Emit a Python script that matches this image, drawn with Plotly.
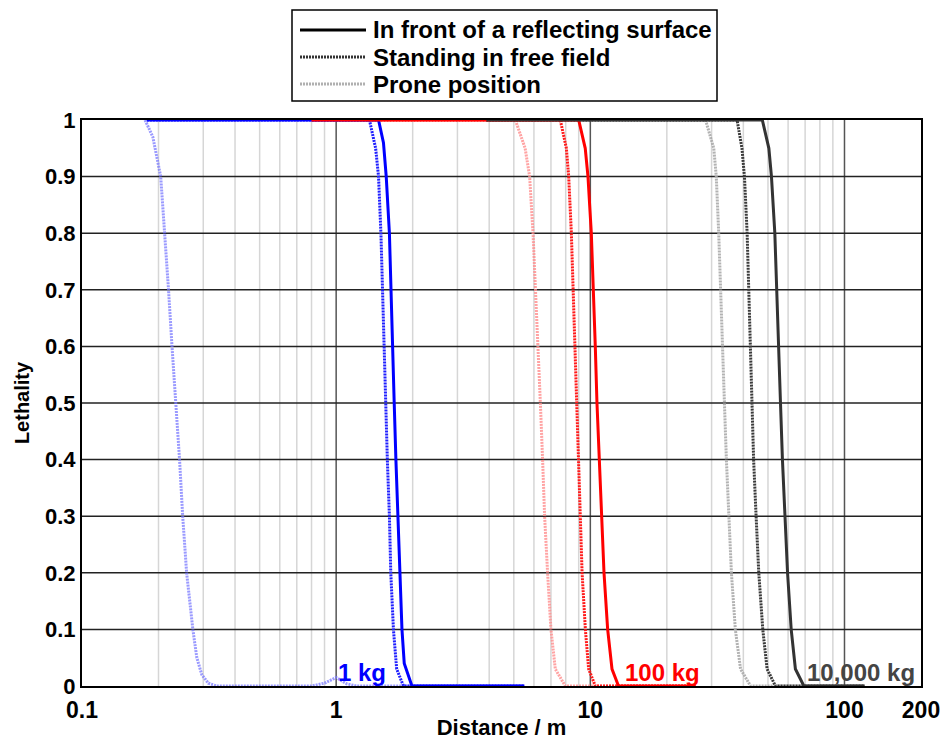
import math
import plotly.graph_objects as go

# ---------------- data ----------------
# 1 kg
blue_prone_x = [0.177, 0.19, 0.204, 0.212, 0.219, 0.226, 0.234, 0.242, 0.249, 0.258, 0.273, 0.283, 0.296, 0.314, 0.339,
                0.5, 0.8, 0.9, 1.0, 1.1, 1.2, 2.0, 5.5]
blue_prone_y = [1.0, 0.97, 0.9, 0.8, 0.7, 0.6, 0.5, 0.4, 0.3, 0.2, 0.1, 0.05, 0.02, 0.005, 0.0,
                0.0, 0.0, 0.005, 0.015, 0.004, 0.0, 0.0, 0.0]
blue_free_x = [0.18, 1.352, 1.43, 1.468, 1.50, 1.52, 1.545, 1.57, 1.59, 1.62, 1.64, 1.68, 1.73, 1.84, 5.5]
blue_free_y = [1.0, 1.0, 0.95, 0.9, 0.8, 0.7, 0.6, 0.5, 0.4, 0.3, 0.2, 0.1, 0.03, 0.0, 0.0]
blue_refl_x = [0.18, 1.468, 1.535, 1.574, 1.62, 1.64, 1.667, 1.692, 1.718, 1.75, 1.775, 1.815, 1.853, 1.987, 5.5]
blue_refl_y = [1.0, 1.0, 0.96, 0.9, 0.8, 0.7, 0.6, 0.5, 0.4, 0.3, 0.2, 0.1, 0.04, 0.0, 0.0]

# 100 kg
red_prone_x = [0.8, 5.07, 5.54, 5.77, 5.95, 6.07, 6.20, 6.36, 6.49, 6.61, 6.79, 7.00, 7.28, 7.97, 26.0]
red_prone_y = [1.0, 1.0, 0.95, 0.9, 0.8, 0.7, 0.6, 0.5, 0.4, 0.3, 0.2, 0.1, 0.03, 0.0, 0.0]
red_free_x = [0.8, 7.62, 8.05, 8.22, 8.42, 8.55, 8.68, 8.81, 8.95, 9.08, 9.28, 9.56, 9.85, 10.46, 26.0]
red_free_y = [1.0, 1.0, 0.95, 0.9, 0.8, 0.7, 0.6, 0.5, 0.4, 0.3, 0.2, 0.1, 0.03, 0.0, 0.0]
red_refl_x = [0.8, 9.0, 9.55, 9.79, 10.09, 10.24, 10.46, 10.62, 10.84, 11.04, 11.32, 11.70, 12.17, 12.91, 26.0]
red_refl_y = [1.0, 1.0, 0.95, 0.9, 0.8, 0.7, 0.6, 0.5, 0.4, 0.3, 0.2, 0.1, 0.03, 0.0, 0.0]

# 10,000 kg
blk_prone_x = [3.9, 28.4, 30.6, 31.3, 32.0, 32.5, 33.0, 33.7, 34.3, 35.0, 35.9, 37.2, 39.0, 42.7, 120.0]
blk_prone_y = [1.0, 1.0, 0.95, 0.9, 0.8, 0.7, 0.6, 0.5, 0.4, 0.3, 0.2, 0.1, 0.03, 0.0, 0.0]
blk_free_x = [3.9, 37.8, 39.5, 40.4, 41.4, 42.0, 42.7, 43.3, 43.9, 44.9, 46.0, 47.7, 49.6, 53.5, 120.0]
blk_free_y = [1.0, 1.0, 0.95, 0.9, 0.8, 0.7, 0.6, 0.5, 0.4, 0.3, 0.2, 0.1, 0.03, 0.0, 0.0]
blk_refl_x = [3.9, 47.5, 50.4, 51.6, 53.2, 54.0, 55.1, 56.0, 57.0, 58.2, 59.7, 61.7, 64.1, 69.2, 120.0]
blk_refl_y = [1.0, 1.0, 0.95, 0.9, 0.8, 0.7, 0.6, 0.5, 0.4, 0.3, 0.2, 0.1, 0.03, 0.0, 0.0]

legend_names = ["In front of a reflecting surface", "Standing in free field", "Prone position"]
charge_labels = ["1 kg", "100 kg", "10,000 kg"]
charge_label_x = [1.0, 13.4, 70.0]

x_tick_vals = [0.1, 1, 10, 100, 200]
x_tick_text = ["0.1", "1", "10", "100", "200"]
y_tick_vals = [0, 0.1, 0.2, 0.3, 0.4, 0.5, 0.6, 0.7, 0.8, 0.9, 1]
y_tick_text = ["0", "0.1", "0.2", "0.3", "0.4", "0.5", "0.6", "0.7", "0.8", "0.9", "1"]

minor_grid = [m * 10 ** e for e in (-1, 0, 1) for m in range(2, 10)]
major_grid = [1, 10, 100]

# ---------------- styles / layout geometry ----------------
FONT = "Liberation Sans"
DOT = "2px,1px"
W, H = 943, 740
ML, MR, MT, MB = 82, 22, 120, 54
PW, PH = W - ML - MR, H - MT - MB


def px(x):
    return (x - ML) / PW


def py(y):
    return (H - MB - y) / PH


fig = go.Figure()

series = [
    (blue_prone_x, blue_prone_y, "rgba(120,120,255,0.75)", DOT),
    (red_prone_x, red_prone_y, "rgba(255,140,140,0.8)", DOT),
    (blk_prone_x, blk_prone_y, "rgba(170,170,170,0.9)", DOT),
    (blue_free_x, blue_free_y, "#1f1fff", DOT),
    (red_free_x, red_free_y, "#ff1a1a", DOT),
    (blk_free_x, blk_free_y, "#3a3a3a", DOT),
    (blue_refl_x, blue_refl_y, "#0000ff", "solid"),
    (red_refl_x, red_refl_y, "#ff0000", "solid"),
    (blk_refl_x, blk_refl_y, "#333333", "solid"),
]
for xs, ys, col, dash in series:
    fig.add_trace(go.Scatter(x=xs, y=ys, mode="lines", showlegend=False,
                             line=dict(color=col, width=3, dash=dash), hoverinfo="skip"))

# grid lines
shapes = []
for v in minor_grid:
    shapes.append(dict(type="line", xref="x", yref="paper", x0=v, x1=v, y0=0, y1=1,
                       line=dict(color="#d6d6d6", width=1.5), layer="below"))
for v in major_grid:
    shapes.append(dict(type="line", xref="x", yref="paper", x0=v, x1=v, y0=0, y1=1,
                       line=dict(color="#555555", width=1.5), layer="below"))
for v in y_tick_vals[1:-1]:
    shapes.append(dict(type="line", xref="paper", yref="y", x0=0, x1=1, y0=v, y1=v,
                       line=dict(color="#222222", width=1.5), layer="below"))

# hand-made legend box (above the plot)
shapes.append(dict(type="rect", xref="paper", yref="paper", x0=px(292), x1=px(717),
                   y0=py(101), y1=py(10), line=dict(color="black", width=1.5),
                   fillcolor="white", layer="above"))
leg_styles = [("#000000", "solid"), ("#333333", DOT), ("#b0b0b0", DOT)]
leg_rows = [30, 57, 84]
for name, (col, dash), ry in zip(legend_names, leg_styles, leg_rows):
    shapes.append(dict(type="line", xref="paper", yref="paper", x0=px(300), x1=px(366),
                       y0=py(ry), y1=py(ry), line=dict(color=col, width=3, dash=dash),
                       layer="above"))
    fig.add_annotation(x=px(371), y=py(ry), xref="paper", yref="paper", text="<b>%s</b>" % name,
                       showarrow=False, xanchor="left", yanchor="middle",
                       font=dict(family=FONT, size=24, color="black"))
fig.update_layout(shapes=shapes)

label_colors = ["#0000ff", "#ff0000", "#444444"]
for txt, xv, col in zip(charge_labels, charge_label_x, label_colors):
    fig.add_annotation(x=math.log10(xv), y=0, xref="x", yref="y", text="<b>%s</b>" % txt,
                       showarrow=False, xanchor="left", yanchor="bottom", yshift=-2,
                       font=dict(family=FONT, size=24, color=col))

fig.update_layout(
    width=W, height=H,
    margin=dict(l=ML, r=MR, t=MT, b=MB),
    paper_bgcolor="white", plot_bgcolor="white",
    font=dict(family=FONT, size=20, color="black"),
    showlegend=False,
    xaxis=dict(type="log", range=[-1, 2.30103], tickvals=x_tick_vals, ticktext=x_tick_text,
               showgrid=False, zeroline=False, showline=True, linecolor="black", linewidth=2,
               mirror=True, ticks="", automargin=False, ticklabelstandoff=2,
               tickfont=dict(family=FONT, size=23, weight="bold"),
               title=dict(text="<b>Distance / m</b>", font=dict(family=FONT, size=22), standoff=14)),
    yaxis=dict(range=[0, 1], tickvals=y_tick_vals, ticktext=y_tick_text,
               showgrid=False, zeroline=False, showline=True, linecolor="black", linewidth=2,
               mirror=True, ticks="", automargin=False,
               tickfont=dict(family=FONT, size=22, weight="bold"),
               title=dict(text="<b>Lethality</b>", font=dict(family=FONT, size=20), standoff=10)),
)

fig.write_html("out.html")
